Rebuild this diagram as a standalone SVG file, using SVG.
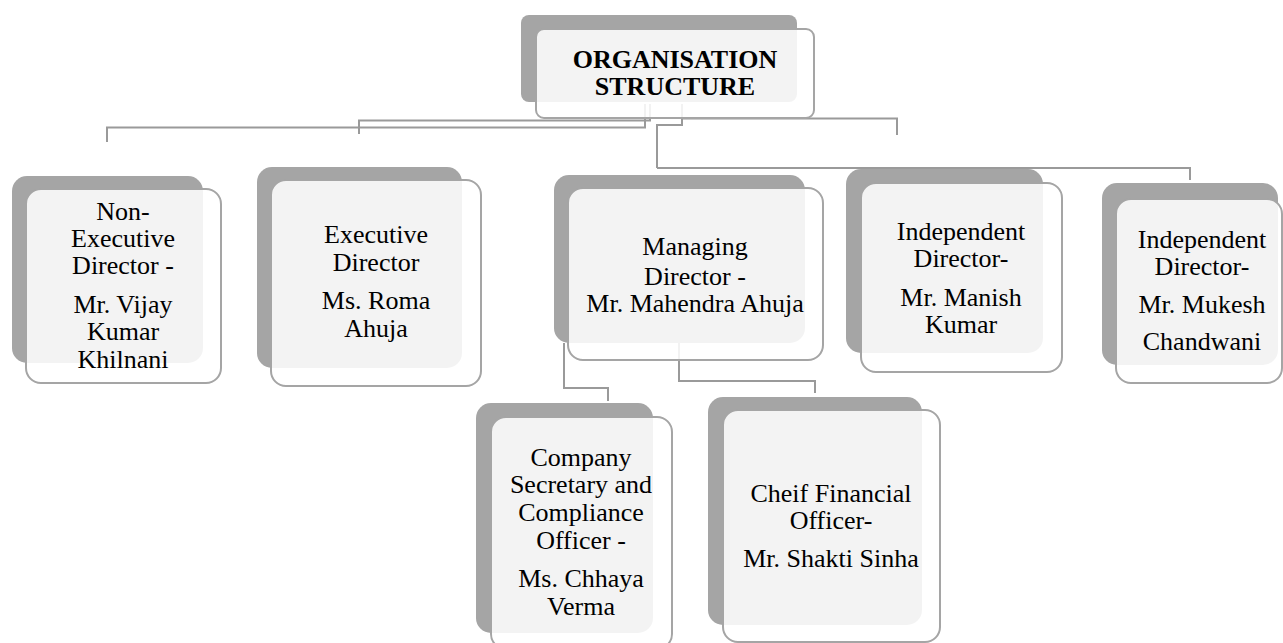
<svg xmlns="http://www.w3.org/2000/svg" width="1283" height="643" viewBox="0 0 1283 643">
  <style>
    .shadow { fill: #a5a5a5; }
    .card { fill: #ffffff; fill-opacity: 0.87; stroke: #a5a5a5; stroke-width: 2; }
    .link { fill: none; stroke: #9a9a9a; stroke-width: 2; }
    .label { font-size: 26px; fill: #000000; text-anchor: middle; }
    .title { font-weight: bold; }
  </style>
  <rect width="1283" height="643" fill="#ffffff"/>

  <!-- elbow connectors, drawn beneath the cards -->
  <g id="connectors">
    <path class="link" d="M645,104 V127.5 H107 V142"/>
    <path class="link" d="M650,104 V120.5 H359 V134"/>
    <path class="link" d="M682,104 V125 H657 V168"/>
    <path class="link" d="M657,168 H1190 V180"/>
    <path class="link" d="M682,118.5 H897 V135"/>
    <path class="link" d="M564,343 V388 H608 V401"/>
    <path class="link" d="M679,343 V381 H815 V393"/>
  </g>

  <g id="node-root" class="label">
    <rect class="shadow" x="521" y="15" width="276" height="87" rx="8"/>
    <rect class="card" x="536" y="29" width="278" height="89" rx="8"/>
    <text font-family="'Liberation Serif', serif" class="title" x="675" y="68">ORGANISATION</text>
    <text font-family="'Liberation Serif', serif" class="title" x="675" y="95">STRUCTURE</text>
  </g>

  <g id="node-non-executive" class="label">
    <rect class="shadow" x="12" y="176" width="191" height="187" rx="15"/>
    <rect class="card" x="26" y="189" width="195" height="194" rx="15"/>
    <text font-family="'Liberation Serif', serif" x="123" y="220">Non-</text>
    <text font-family="'Liberation Serif', serif" x="123" y="247">Executive</text>
    <text font-family="'Liberation Serif', serif" x="123" y="274">Director -</text>
    <text font-family="'Liberation Serif', serif" x="123" y="313">Mr. Vijay</text>
    <text font-family="'Liberation Serif', serif" x="123" y="340">Kumar</text>
    <text font-family="'Liberation Serif', serif" x="123" y="368">Khilnani</text>
  </g>

  <g id="node-executive" class="label">
    <rect class="shadow" x="257" y="167" width="205" height="201" rx="15"/>
    <rect class="card" x="271" y="180" width="210" height="206" rx="15"/>
    <text font-family="'Liberation Serif', serif" x="376" y="243">Executive</text>
    <text font-family="'Liberation Serif', serif" x="376" y="271">Director</text>
    <text font-family="'Liberation Serif', serif" x="376" y="309">Ms. Roma</text>
    <text font-family="'Liberation Serif', serif" x="376" y="337">Ahuja</text>
  </g>

  <g id="node-managing" class="label">
    <rect class="shadow" x="554" y="175" width="251" height="168" rx="15"/>
    <rect class="card" x="568" y="188" width="255" height="172" rx="15"/>
    <text font-family="'Liberation Serif', serif" x="695" y="255">Managing</text>
    <text font-family="'Liberation Serif', serif" x="695" y="285">Director -</text>
    <text font-family="'Liberation Serif', serif" x="695" y="312">Mr. Mahendra Ahuja</text>
  </g>

  <g id="node-independent-1" class="label">
    <rect class="shadow" x="846" y="169" width="197" height="184" rx="15"/>
    <rect class="card" x="861" y="183" width="201" height="189" rx="15"/>
    <text font-family="'Liberation Serif', serif" x="961" y="240">Independent</text>
    <text font-family="'Liberation Serif', serif" x="961" y="267">Director-</text>
    <text font-family="'Liberation Serif', serif" x="961" y="306">Mr. Manish</text>
    <text font-family="'Liberation Serif', serif" x="961" y="333">Kumar</text>
  </g>

  <g id="node-independent-2" class="label">
    <rect class="shadow" x="1102" y="183" width="176" height="182" rx="15"/>
    <rect class="card" x="1116" y="199" width="166" height="184" rx="15"/>
    <text font-family="'Liberation Serif', serif" x="1202" y="248">Independent</text>
    <text font-family="'Liberation Serif', serif" x="1202" y="275">Director-</text>
    <text font-family="'Liberation Serif', serif" x="1202" y="313">Mr. Mukesh</text>
    <text font-family="'Liberation Serif', serif" x="1202" y="350">Chandwani</text>
  </g>

  <g id="node-company-secretary" class="label">
    <rect class="shadow" x="476" y="403" width="177" height="230" rx="15"/>
    <rect class="card" x="491" y="417" width="181" height="232" rx="15"/>
    <text font-family="'Liberation Serif', serif" x="581" y="466">Company</text>
    <text font-family="'Liberation Serif', serif" x="581" y="493">Secretary and</text>
    <text font-family="'Liberation Serif', serif" x="581" y="521">Compliance</text>
    <text font-family="'Liberation Serif', serif" x="581" y="549">Officer -</text>
    <text font-family="'Liberation Serif', serif" x="581" y="587">Ms. Chhaya</text>
    <text font-family="'Liberation Serif', serif" x="581" y="615">Verma</text>
  </g>

  <g id="node-cfo" class="label">
    <rect class="shadow" x="708" y="397" width="214" height="228" rx="15"/>
    <rect class="card" x="723" y="410" width="217" height="232" rx="15"/>
    <text font-family="'Liberation Serif', serif" x="831" y="502">Cheif Financial</text>
    <text font-family="'Liberation Serif', serif" x="831" y="529">Officer-</text>
    <text font-family="'Liberation Serif', serif" x="831" y="567">Mr. Shakti Sinha</text>
  </g>
</svg>
